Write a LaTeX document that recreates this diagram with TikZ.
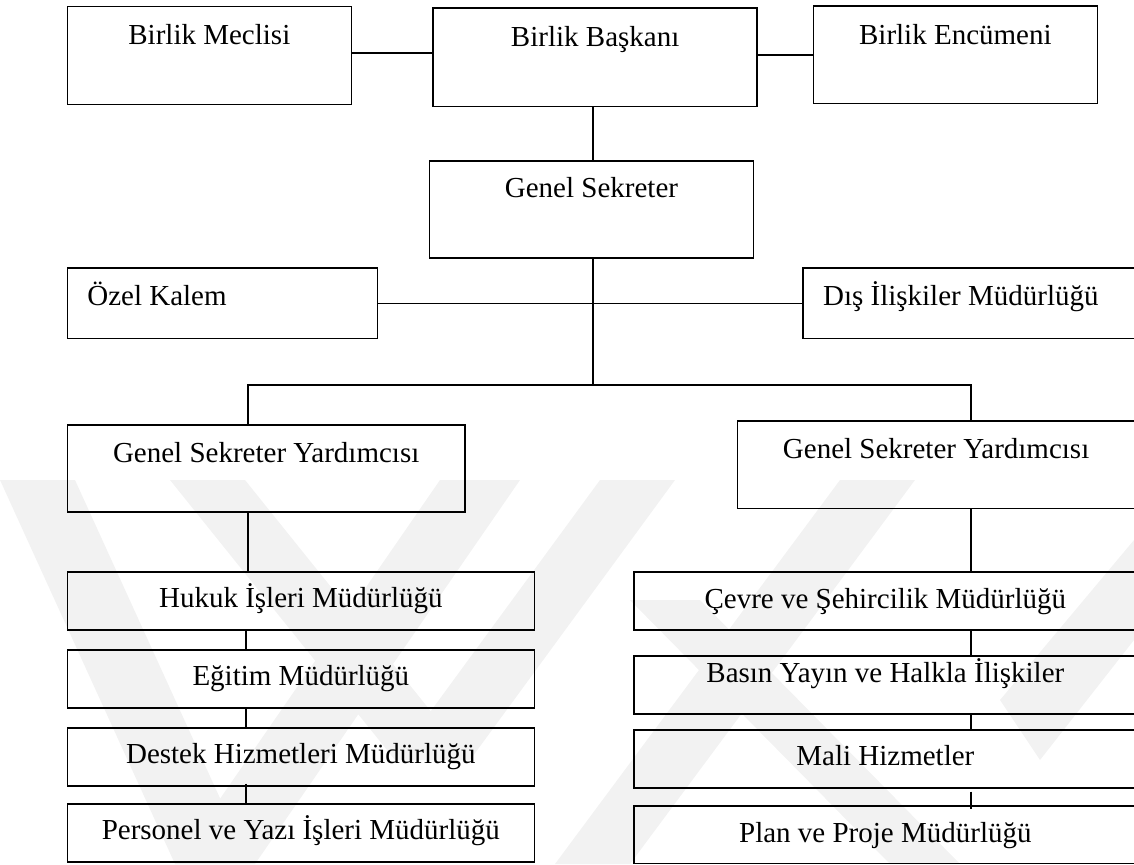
\documentclass[tikz,border=0pt]{standalone}
\usepackage{fontspec}
\setmainfont{Liberation Serif}
\begin{document}
\begin{tikzpicture}[x=1pt,y=-1pt,
  box/.style={draw, line width=1.5pt, inner sep=0pt, anchor=north west,
    font=\fontsize{29}{34}\selectfont},
  link/.style={line width=1.5pt},
  emblem/.style={fill=black!5, draw=none}]
\useasboundingbox (0,0) rectangle (1134,864);
\clip (0,0) rectangle (1134,864);

% faint background emblem
\fill[emblem] (0,480) -- (75,480) -- (250,864) -- (175,864) -- cycle;
\fill[emblem] (440,480) -- (520,480) -- (255,864) -- (175,864) -- cycle;
\fill[emblem] (170,480) -- (245,480) -- (470,760) -- (395,760) -- cycle;
\fill[emblem] (600,480) -- (675,480) -- (470,760) -- (395,760) -- cycle;
\fill[emblem] (840,480) -- (915,480) -- (630,864) -- (555,864) -- cycle;
\fill[emblem] (630,600) -- (700,600) -- (960,864) -- (890,864) -- cycle;
\fill[emblem] (1134,540) -- (1134,640) -- (1040,760) -- (1000,700) -- cycle;

% top level
\node[box, minimum width=284, text height=38, text depth=60] (meclis) at (66.6,5.7) {Birlik Meclisi};
\node[box, minimum width=324, text height=38.5, text depth=60] (baskan) at (432.4,7.3) {Birlik Başkanı};
\node[box, minimum width=284, text height=38, text depth=59.7] (encumen) at (812.6,5.3) {Birlik Encümeni};

\node[box, minimum width=324, text height=36.7, text depth=60.6] (gensek) at (428.7,160) {Genel Sekreter};

\node[box, inner xsep=20, text height=37, text depth=33.4] (ozel) at (66.6,267.3) {\makebox[270pt][l]{Özel Kalem}};
\node[box, inner xsep=20, text height=37, text depth=33.4] (dis) at (802.3,267.3) {\makebox[320pt][l]{Dış İlişkiler Müdürlüğü}};

% deputies
\node[box, minimum width=397.7, text height=37.7, text depth=49.3] (gsyl) at (66.6,424) {Genel Sekreter Yardımcısı};
\node[box, minimum width=397.3, text height=37.3, text depth=50.4] (gsyr) at (736.7,420) {Genel Sekreter Yardımcısı};

% left directorates
\node[box, minimum width=467, text height=35.7, text depth=22.3] (hukuk) at (66.6,571) {Hukuk İşleri Müdürlüğü};
\node[box, minimum width=467, text height=36, text depth=22] (egitim) at (66.6,649) {Eğitim Müdürlüğü};
\node[box, minimum width=467, text height=35.4, text depth=22.3] (destek) at (66.6,727.3) {Destek Hizmetleri Müdürlüğü};
\node[box, minimum width=467, text height=35, text depth=22.7] (personel) at (66.6,803.3) {Personel ve Yazı İşleri Müdürlüğü};

% right directorates
\node[box, minimum width=502.8, text height=37, text depth=21] (cevre) at (633.2,571) {Çevre ve Şehircilik Müdürlüğü};
\node[box, minimum width=502.8, text height=26.7, text depth=31.3] (basin) at (633.2,655) {Basın Yayın ve Halkla İlişkiler};
\node[box, minimum width=502.8, text height=35.7, text depth=22] (mali) at (633.2,729.3) {Mali Hizmetler};
\node[box, minimum width=502.8, text height=36.7, text depth=21] (plan) at (633.2,805) {Plan ve Proje Müdürlüğü};

% junction points of the tree
\coordinate (trunk) at (593,385);
\coordinate (bl) at (248,385);
\coordinate (br) at (971,385);
\coordinate (lcol) at (246,0);

% connectors
\draw[link] ([yshift=2.5pt]meclis.east) -- ([yshift=2.5pt]meclis.east -| baskan.west);
\draw[link] (baskan.east |- encumen.west) -- (encumen.west);
\draw[link] (trunk |- baskan.south) -- (trunk |- gensek.north);
\draw[link] (trunk |- gensek.south) -- (trunk);
\draw[link] (ozel.east) -- (ozel.east -| dis.west);
\draw[link] (bl |- gsyl.north) -- (bl) -- (br) -- (br |- gsyr.north);
\draw[link] (bl |- gsyl.south) -- (bl |- hukuk.north);
\draw[link] (lcol |- hukuk.south) -- (lcol |- egitim.north);
\draw[link] (lcol |- egitim.south) -- (lcol |- destek.north);
\draw[link] ([yshift=3pt]lcol |- destek.south) -- (lcol |- personel.north);
\draw[link] (br |- gsyr.south) -- (br |- cevre.north);
\draw[link] (br |- cevre.south) -- (br |- basin.north);
\draw[link] (br |- basin.south) -- (br |- mali.north);
\draw[link] ([yshift=-3pt]br |- mali.south) -- ([yshift=-4pt]br |- plan.north);
\end{tikzpicture}
\end{document}
